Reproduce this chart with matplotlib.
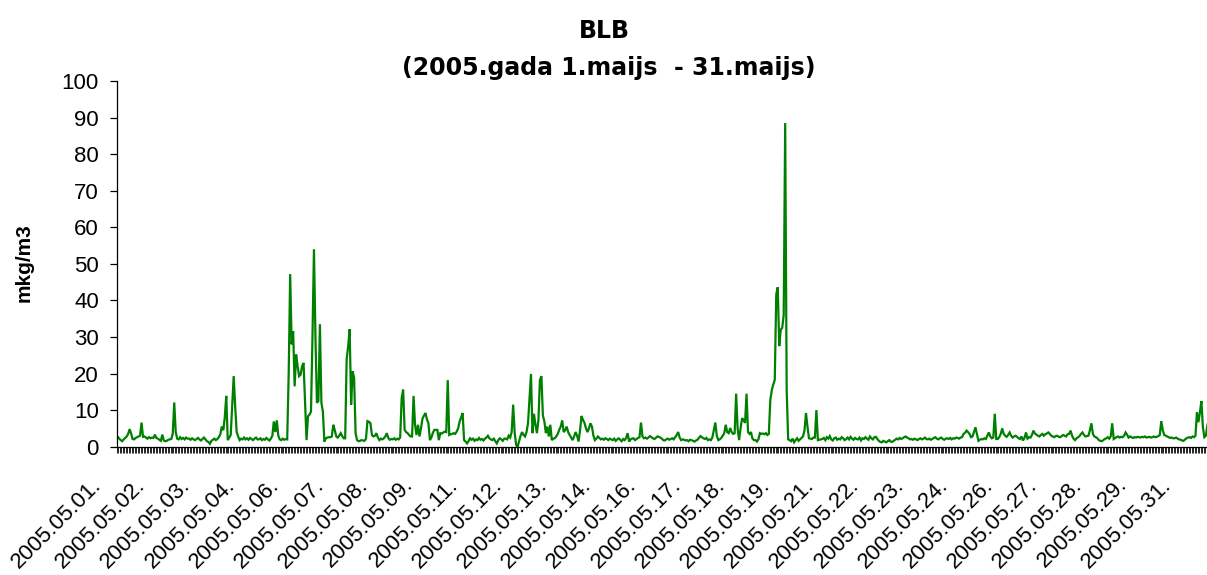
"""
BLB hourly concentration, May 2005 (Excel-style line chart).
"""

import matplotlib
matplotlib.use("Agg")
import matplotlib.pyplot as plt
import numpy as np
from matplotlib.transforms import ScaledTranslation

plt.rcParams["font.family"] = ["Liberation Sans", "DejaVu Sans"]

# Hourly values (mkg/m3), one list per day of May 2005
d01 = [2.7, 2.2, 1.8, 1.5, 2.0, 2.4, 2.8, 3.5, 4.8, 3.6, 2.1, 2.0, 2.4, 2.6, 2.8, 3.0, 6.6, 2.7, 2.8, 2.5, 2.2, 2.6, 2.3, 2.5]
d02 = [2.4, 3.3, 2.4, 2.2, 1.9, 1.6, 3.3, 1.7, 1.5, 1.6, 1.9, 2.0, 2.1, 3.5, 12.1, 4.0, 2.2, 2.0, 2.6, 2.1, 2.4, 2.0, 2.5, 2.2]
d03 = [2.2, 1.9, 2.3, 2.0, 1.8, 2.1, 2.4, 2.0, 1.7, 2.1, 2.5, 2.0, 1.5, 1.3, 0.8, 1.6, 1.9, 2.2, 1.8, 2.1, 2.6, 3.4, 5.5, 4.5]
d04 = [8.0, 13.9, 1.8, 2.5, 3.2, 11.0, 19.3, 11.0, 4.0, 2.8, 1.8, 2.2, 2.0, 2.5, 2.0, 2.3, 1.9, 2.4, 2.1, 1.8, 2.2, 2.5, 2.0, 2.0]
d05 = [2.3, 1.8, 2.1, 1.9, 2.4, 2.0, 1.7, 2.2, 3.0, 6.9, 4.0, 7.2, 3.0, 2.0, 1.8, 2.2, 1.9, 2.1, 2.0, 20.0, 47.2, 28.0, 31.6, 16.5]
d06 = [25.2, 22.0, 19.3, 19.7, 22.0, 22.9, 12.0, 1.8, 8.3, 8.8, 9.6, 30.0, 54.0, 30.0, 12.0, 12.5, 33.5, 12.0, 9.6, 1.4, 2.3, 2.5, 2.6, 2.6]
d07 = [2.8, 6.0, 4.5, 2.8, 2.5, 3.0, 3.7, 2.9, 2.3, 2.3, 24.0, 27.5, 32.1, 11.5, 20.6, 18.8, 3.7, 1.8, 1.5, 1.6, 1.8, 1.7, 1.6, 2.2]
d08 = [7.0, 6.8, 6.4, 3.2, 2.8, 3.0, 3.7, 2.5, 1.8, 2.2, 2.0, 2.3, 2.8, 3.7, 2.4, 1.9, 2.1, 2.0, 2.3, 1.9, 2.2, 2.0, 2.5, 13.3]
d09 = [15.6, 4.6, 4.0, 3.7, 3.2, 2.8, 2.8, 13.9, 6.0, 3.2, 6.0, 2.8, 5.0, 7.7, 8.5, 9.2, 7.5, 6.4, 1.8, 2.5, 3.8, 4.6, 4.6, 4.6]
d10 = [1.8, 3.7, 3.6, 3.9, 4.1, 4.0, 18.2, 3.2, 3.4, 3.5, 3.7, 3.5, 4.1, 5.0, 6.9, 8.0, 9.2, 1.8, 1.4, 0.9, 1.5, 2.3, 1.9, 2.2]
d11 = [1.6, 2.0, 1.8, 2.4, 1.9, 2.1, 1.7, 2.2, 2.5, 3.0, 2.3, 2.0, 1.8, 2.2, 1.5, 0.9, 1.8, 2.3, 2.0, 1.6, 2.2, 2.2, 2.0, 3.0]
d12 = [2.5, 4.0, 11.5, 4.0, 0.5, 0.0, 1.5, 3.0, 4.0, 3.2, 2.8, 4.0, 6.4, 13.0, 19.9, 3.7, 9.0, 6.0, 3.7, 7.3, 18.2, 19.3, 8.5, 6.9]
d13 = [3.7, 5.5, 2.8, 6.0, 1.8, 2.2, 2.3, 2.8, 3.5, 4.6, 5.5, 7.2, 4.0, 4.5, 5.5, 4.0, 3.2, 2.5, 1.8, 2.8, 4.0, 3.0, 1.4, 4.5]
d14 = [8.4, 7.3, 6.5, 5.0, 4.0, 5.0, 6.4, 5.5, 3.0, 1.8, 2.2, 2.8, 2.4, 2.0, 2.2, 1.9, 2.3, 2.1, 1.8, 2.2, 2.0, 1.8, 2.2, 1.6]
d15 = [2.0, 2.3, 1.9, 1.5, 2.1, 1.8, 2.4, 3.7, 1.4, 2.0, 2.2, 2.3, 1.8, 2.1, 2.4, 2.6, 6.6, 2.8, 2.3, 2.5, 2.2, 2.5, 2.9, 2.6]
d16 = [2.3, 2.1, 2.4, 2.8, 2.7, 2.5, 2.2, 1.8, 1.7, 2.0, 2.2, 1.9, 2.1, 2.3, 2.0, 2.6, 3.2, 4.0, 2.5, 1.8, 2.0, 1.9, 1.7, 1.8]
d17 = [1.5, 1.9, 1.8, 1.6, 1.4, 1.7, 1.9, 2.4, 2.9, 2.6, 2.3, 2.1, 2.4, 1.8, 2.0, 1.8, 2.5, 4.5, 6.6, 3.0, 1.8, 2.0, 2.4, 3.0]
d18 = [3.7, 6.0, 4.0, 3.7, 5.1, 4.0, 3.5, 3.7, 14.5, 5.0, 1.8, 5.0, 7.8, 7.3, 6.5, 14.5, 4.0, 3.5, 4.0, 2.2, 1.8, 1.8, 1.4, 2.0]
d19 = [3.7, 3.5, 3.6, 3.4, 3.7, 3.2, 3.5, 12.8, 15.5, 17.0, 18.3, 41.7, 43.6, 27.5, 32.0, 32.5, 36.0, 88.5, 15.6, 2.0, 1.8, 1.5, 2.2, 1.2]
d20 = [1.8, 2.3, 1.6, 2.0, 2.4, 2.8, 4.5, 9.2, 5.5, 2.3, 2.2, 2.1, 2.5, 2.5, 10.0, 1.8, 1.9, 2.0, 2.1, 2.4, 1.8, 2.6, 2.2, 2.9]
d21 = [2.0, 1.7, 2.3, 2.5, 1.9, 2.2, 2.0, 2.6, 2.3, 1.8, 2.1, 2.5, 2.0, 2.7, 2.2, 1.9, 2.4, 2.1, 2.0, 2.5, 1.7, 2.3, 2.1, 2.6]
d22 = [2.2, 1.9, 2.8, 2.3, 2.0, 2.6, 2.7, 2.1, 1.6, 1.3, 1.2, 1.6, 1.4, 1.2, 1.5, 1.8, 1.4, 1.3, 1.6, 1.9, 2.2, 2.0, 2.4, 2.1]
d23 = [2.3, 2.6, 2.8, 2.5, 2.3, 2.0, 2.1, 1.9, 2.2, 2.0, 1.8, 2.1, 2.3, 2.0, 2.2, 2.5, 2.1, 2.0, 2.2, 1.9, 2.1, 2.4, 2.6, 2.2]
d24 = [2.0, 2.3, 2.5, 2.1, 1.9, 2.2, 2.3, 2.1, 2.4, 2.0, 2.3, 2.2, 2.5, 2.4, 2.2, 2.5, 2.6, 3.5, 3.8, 4.4, 4.0, 3.5, 2.6, 2.8]
d25 = [4.0, 5.3, 3.5, 1.6, 1.9, 2.1, 2.0, 2.3, 2.1, 3.0, 3.9, 2.8, 2.3, 2.5, 9.0, 2.1, 2.1, 2.6, 3.5, 5.0, 3.5, 3.0, 2.7, 3.2]
d26 = [3.9, 3.0, 2.5, 2.8, 3.0, 2.7, 2.3, 2.1, 2.8, 1.7, 2.4, 3.9, 2.2, 2.6, 2.5, 3.2, 4.4, 3.6, 3.3, 3.0, 2.8, 3.2, 3.5, 3.0]
d27 = [3.4, 3.6, 3.9, 3.5, 3.0, 2.8, 2.6, 2.9, 3.0, 2.7, 2.6, 2.9, 3.2, 3.0, 2.8, 3.4, 3.5, 4.4, 3.0, 2.2, 1.8, 2.3, 2.6, 2.9]
d28 = [3.5, 3.9, 3.2, 2.8, 2.9, 3.0, 4.5, 6.4, 3.5, 2.8, 2.6, 2.3, 1.8, 1.6, 1.5, 1.8, 2.1, 2.3, 2.6, 2.2, 2.8, 6.4, 2.1, 2.4]
d29 = [2.6, 2.8, 2.5, 2.7, 2.6, 3.0, 3.9, 3.3, 2.5, 2.8, 2.6, 2.4, 2.6, 2.5, 2.7, 2.6, 2.5, 2.7, 2.6, 2.8, 2.5, 2.6, 2.7, 2.5]
d30 = [2.6, 2.8, 2.6, 2.7, 2.9, 3.2, 7.0, 4.5, 3.2, 3.0, 2.8, 2.6, 2.4, 2.5, 2.3, 2.3, 2.5, 2.2, 2.0, 1.9, 1.7, 1.6, 2.0, 2.3]
d31 = [2.5, 2.6, 2.4, 2.8, 2.6, 3.0, 9.4, 6.7, 9.4, 12.5, 5.3, 2.6, 3.0, 5.8, 7.5, 4.0, 3.2, 2.8, 3.0, 3.3, 2.9, 3.1, 3.4, 3.0]

days = [d01, d02, d03, d04, d05, d06, d07, d08, d09, d10, d11, d12, d13, d14, d15, d16,
        d17, d18, d19, d20, d21, d22, d23, d24, d25, d26, d27, d28, d29, d30, d31]

values = np.concatenate([np.array(d) for d in days])
dates = [f"2005.05.{n + 1:02d}." for n, d in enumerate(days) for _ in d]
label_every = 30  # Excel category label interval

title_1 = "BLB"
title_2 = "(2005.gada 1.maijs  - 31.maijs)"
y_label = "mkg/m3"


W, H = 1207, 575
fig = plt.figure(figsize=(W / 100, H / 100), dpi=100)

# Plot area runs past the right edge of the picture (the source was cropped)
x0, x1 = 117, 117 + len(values) * 1.4865
ax = fig.add_axes([x0 / W, 1 - 446.7 / H, (x1 - x0) / W, (446.7 - 81) / H])

x = np.arange(len(values))
ax.plot(x, values, color="#008000", lw=1.6, solid_joinstyle="miter")

ax.set_xlim(-0.5, len(values) - 0.5)
ax.set_ylim(0, 100)

for side in ["top", "right"]:
    ax.spines[side].set_visible(False)
for side in ["left", "bottom"]:
    ax.spines[side].set_linewidth(0.9)
    ax.spines[side].set_color("black")

ax.set_yticks(np.arange(0, 101, 10))
ax.tick_params(axis="y", length=5, width=0.9, pad=8, labelsize=16)

# Category labels every 30 hours, tick marks between every category
idx = x[::label_every]
ax.set_xticks(idx)
ax.set_xticklabels([dates[i] for i in idx])
ax.set_xticks(np.arange(len(values) + 1) - 0.5, minor=True)
ax.tick_params(axis="x", which="major", length=0, pad=28, labelsize=16)
ax.tick_params(axis="x", which="minor", length=4.3, width=0.6, color="black")

shift = ScaledTranslation(-16 / 100, 0, fig.dpi_scale_trans)
for lab in ax.get_xticklabels():
    lab.set_rotation(45)
    lab.set_ha("right")
    lab.set_va("baseline")
    lab.set_rotation_mode("anchor")
    lab.set_transform(lab.get_transform() + shift)

fig.text(604 / W, 1 - 38.5 / H, title_1, ha="center", va="baseline",
         fontsize=17, fontweight="bold", family="DejaVu Sans")
fig.text(609 / W, 1 - 75 / H, title_2, ha="center", va="baseline",
         fontsize=17, fontweight="bold", family="DejaVu Sans")
fig.text(24 / W, 1 - 263 / H, y_label, rotation=90, ha="center", va="center",
         fontsize=15, fontweight="bold")

fig.savefig("out.png", dpi=100)
